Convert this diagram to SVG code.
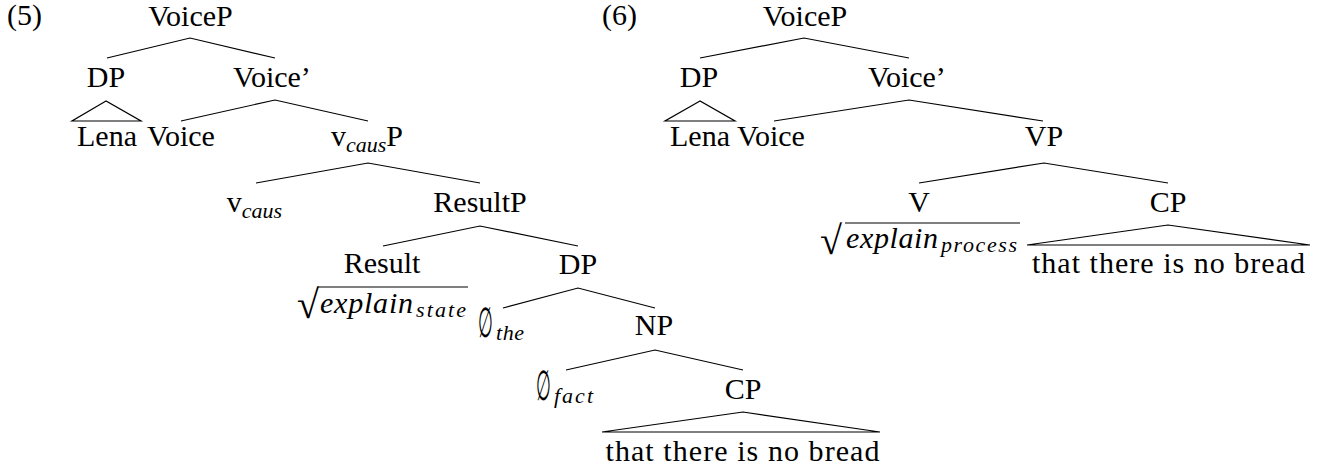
<svg xmlns="http://www.w3.org/2000/svg" width="1324" height="469" viewBox="0 0 1324 469">
  <style>
    text { font-family: "Liberation Serif", "Times New Roman", serif; font-size: 30px; fill: #000; }
    .c { text-anchor: middle; }
    .it { font-style: italic; }
    .sub { font-style: italic; font-size: 22px; }
    .rad { font-size: 40px; }
    .empty { font-family: "DejaVu Serif", serif; font-size: 42px; }
    .edge { fill: none; stroke: #000; stroke-width: 1.2; }
  </style>
  <rect width="1324" height="469" fill="#fff"/>

  <!-- branches, triangles and radical bars -->
  <g id="connectors">
    <!-- tree (5) -->
    <polyline class="edge" points="107,58 190,38 275,58"/>
    <polygon class="edge" points="106,101 72,121 141,121"/>
    <polyline class="edge" points="181,121 275,100 368,121"/>
    <polyline class="edge" points="256,183 368,163 480,183"/>
    <polyline class="edge" points="383,246 480,226 578,246"/>
    <polyline class="edge" points="503,308 578,288 655,308"/>
    <polyline class="edge" points="566,370 655,350 743,370"/>
    <polygon class="edge" points="743,412 602,432 880,432"/>
    <line class="edge" x1="318" y1="287" x2="468" y2="287"/>
    <!-- tree (6) -->
    <polyline class="edge" points="700,58 804,38 909,58"/>
    <polygon class="edge" points="700,101 665,121 735,121"/>
    <polyline class="edge" points="774,121 909,100 1043,121"/>
    <polyline class="edge" points="919,183 1044,163 1168,183"/>
    <polygon class="edge" points="1168,225 1027,245 1310,245"/>
    <line class="edge" x1="845" y1="223" x2="1020" y2="223"/>
  </g>

  <!-- tree (5) -->
  <g id="ex5-number"><text x="7" y="25">(5)</text></g>
  <g id="t5-voiceP"><text class="c" x="190.5" y="26">VoiceP</text></g>
  <g id="t5-dp"><text class="c" x="106" y="87">DP</text></g>
  <g id="t5-voicebar"><text class="c" x="272" y="87">Voice’</text></g>
  <g id="t5-lena"><text class="c" x="107" y="146">Lena</text></g>
  <g id="t5-voice"><text class="c" x="181" y="146">Voice</text></g>
  <g id="t5-vcausP"><text class="c" x="367" y="146">v<tspan class="sub" dy="6">caus</tspan><tspan dy="-6">P</tspan></text></g>
  <g id="t5-vcaus"><text class="c" x="254.5" y="212">v<tspan class="sub" dy="6">caus</tspan></text></g>
  <g id="t5-resultP"><text class="c" x="480" y="212">ResultP</text></g>
  <g id="t5-result"><text class="c" x="382" y="273">Result</text></g>
  <g id="t5-root">
    <text class="rad" x="297" y="318">√</text>
    <text class="it" x="320" y="313" textLength="93" lengthAdjust="spacing">explain</text>
    <text class="sub" x="416" y="317" textLength="50" lengthAdjust="spacing">state</text>
  </g>
  <g id="t5-dp2"><text class="c" x="578" y="274">DP</text></g>
  <g id="t5-the">
    <text class="empty" x="478" y="337" textLength="15" lengthAdjust="spacingAndGlyphs">∅</text>
    <text class="sub" x="496" y="340" textLength="28" lengthAdjust="spacing">the</text>
  </g>
  <g id="t5-np"><text class="c" x="654" y="335">NP</text></g>
  <g id="t5-fact">
    <text class="empty" x="536" y="400" textLength="15" lengthAdjust="spacingAndGlyphs">∅</text>
    <text class="sub" x="554" y="403" textLength="39" lengthAdjust="spacing">fact</text>
  </g>
  <g id="t5-cp"><text class="c" x="743" y="399">CP</text></g>
  <g id="t5-clause"><text class="c" x="742.5" y="461" textLength="274" lengthAdjust="spacing">that there is no bread</text></g>

  <!-- tree (6) -->
  <g id="ex6-number"><text x="602" y="25">(6)</text></g>
  <g id="t6-voiceP"><text class="c" x="805" y="26">VoiceP</text></g>
  <g id="t6-dp"><text class="c" x="699" y="87">DP</text></g>
  <g id="t6-voicebar"><text class="c" x="907" y="87">Voice’</text></g>
  <g id="t6-lena"><text class="c" x="700" y="146">Lena</text></g>
  <g id="t6-voice"><text class="c" x="771" y="146">Voice</text></g>
  <g id="t6-vp"><text class="c" x="1044" y="146">VP</text></g>
  <g id="t6-v"><text class="c" x="919" y="212">V</text></g>
  <g id="t6-root">
    <text class="rad" x="820" y="254">√</text>
    <text class="it" x="846" y="248" textLength="92" lengthAdjust="spacing">explain</text>
    <text class="sub" x="941" y="252" textLength="76" lengthAdjust="spacing">process</text>
  </g>
  <g id="t6-cp"><text class="c" x="1168" y="212">CP</text></g>
  <g id="t6-clause"><text class="c" x="1168.5" y="273" textLength="273" lengthAdjust="spacing">that there is no bread</text></g>
</svg>
